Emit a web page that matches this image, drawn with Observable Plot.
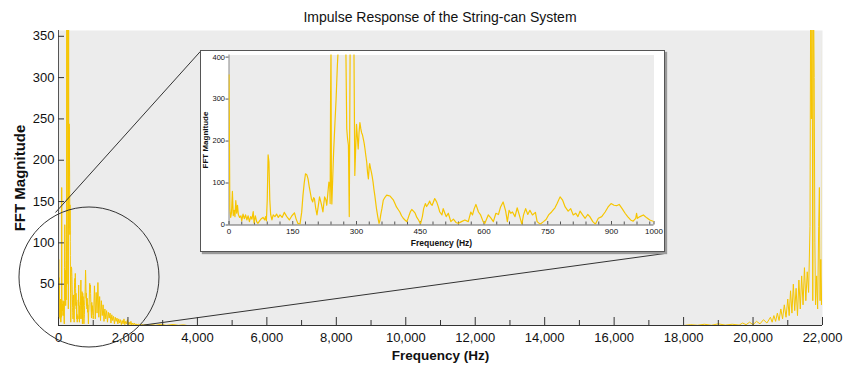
<!DOCTYPE html>
<html><head><meta charset="utf-8">
<script src="https://cdn.jsdelivr.net/npm/d3@7"></script>
<script src="https://cdn.jsdelivr.net/npm/@observablehq/plot@0.6"></script>
<style>
body{margin:0;background:#fff;font-family:"Liberation Sans",Arial,sans-serif;}
#wrap{position:relative;width:844px;height:366px;overflow:hidden;}
#title{position:absolute;left:58px;width:764px;top:8px;line-height:18px;text-align:center;font-size:14px;color:#111;}
#main{position:absolute;left:0;top:26px;}
#inset{position:absolute;left:200px;top:50px;width:463px;height:200px;border:1.5px solid #555;background:#fff;box-shadow:2px 2px 1px #999;}
</style></head><body>
<div id="wrap"><div id="title">Impulse Response of the String-can System</div><div id="main"></div><div id="inset"></div></div>
<script>
// ---- Tick labels ----
const xTickLabels = [0, 2000, 4000, 6000, 8000, 10000, 12000, 14000, 16000, 18000, 20000, 22000];
const xMinorTicks = [1000, 3000, 5000, 7000, 9000, 11000, 13000, 15000, 17000, 19000, 21000];
const yTickLabels = [50, 100, 150, 200, 250, 300, 350];
const insetXTickLabels = [0, 150, 300, 450, 600, 750, 900, 1000];
const insetXMinorTicks = [30, 60, 90, 120, 180, 210, 240, 270, 330, 360, 390, 420, 480, 510, 540, 570, 630, 660, 690, 720, 780, 810, 840, 870, 930, 960, 990];
const insetYTickLabels = [0, 100, 200, 300, 400];

// ---- Spectrum 0–1000 Hz ----
const insetFreq = [0,2,4,6,8,10,12,14,16,18,20,22,25,28,30,33,36,39,42,45,48,51,54,57,59,62,65,68,72,76,80,84,86,88,90,92,94,96,98,101,104,108,112,116,120,125,130,136,142,148,154,158,162,167,171,174,177,180,183,186,189,191,194,197,199,201,204,207,210,213,216,218,221,223,225,228,230,233,235,237,238,239,240,241,242,244,246,249,252,255,257,260,266,272,275,277,279,281,283,285,290,294,296,298,300,302,304,306,308,310,312,314,316,318,320,322,324,326,328,330,331,333,335,337,339,341,343,345,347,350,353,355,357,360,363,367,371,375,379,383,387,391,394,398,402,406,410,414,418,421,424,427,430,434,438,442,446,449,451,455,458,462,465,467,470,472,475,478,481,484,487,489,492,496,501,504,508,511,516,522,528,534,540,547,555,563,569,573,577,581,587,592,598,602,610,616,622,628,634,639,645,651,655,659,663,667,673,678,683,689,693,698,703,708,714,721,725,732,740,746,752,759,767,772,779,785,791,798,804,810,816,821,826,832,838,844,849,856,862,869,877,885,892,899,906,912,918,925,932,938,945,951,957,959,961,967,975,983,990,998,1000];
const insetMag = [358,40,18,30,80,22,35,20,58,28,47,25,18,22,10,26,15,24,12,22,8,20,14,32,5,22,8,4,10,15,18,12,20,10,60,167,150,60,25,12,24,20,26,18,24,18,30,20,12,22,29,14,4,2,30,70,100,122,120,110,90,79,62,55,65,63,40,24,45,67,55,47,31,50,67,60,47,80,102,95,51,300,420,90,50,110,170,237,300,380,420,600,600,600,420,230,205,190,20,420,520,420,118,180,240,210,181,220,244,230,220,215,205,195,181,165,150,125,110,140,146,135,126,115,102,85,71,55,39,20,4,10,24,40,59,66,71,70,69,64,59,50,43,37,31,22,16,12,8,15,24,32,37,33,28,18,12,6,4,20,39,51,44,47,52,57,50,47,55,63,58,54,45,31,24,39,28,20,28,8,14,6,4,8,12,8,31,24,39,49,31,24,8,4,24,17,8,28,25,43,55,33,8,35,28,31,20,41,24,2,24,39,25,35,24,30,8,2,8,13,24,31,41,51,67,59,43,33,39,24,28,20,33,24,16,25,20,8,2,16,20,31,43,51,47,46,49,39,28,20,12,9,16,28,16,20,24,17,12,9,8];

// ---- Spectrum 1–3.7 kHz (main chart) ----
const midFreq = [1010,1035,1060,1085,1110,1135,1160,1185,1210,1235,1260,1285,1310,1335,1360,1385,1410,1435,1460,1485,1510,1535,1560,1585,1610,1635,1660,1685,1710,1735,1760,1785,1810,1835,1860,1885,1910,1935,1960,1985,2010,2035,2060,2085,2110,2135,2160,2185,2210,2235,2260,2300,2350,2400,2450,2500,2600,2700,2800,2950,3100,3300,3450,3600,3700];
const midMag = [12,48,8,40,15,52,10,35,6,30,12,25,5,20,8,18,4,16,9,15,3,13,6,11,2,10,5,9,2,8,3,7,1,6,2,8,1,5,2,7,1,4,1,5,0.5,3,1,3,0.5,2,0.5,1.5,0.3,1.2,0.3,1,0.2,1,0.2,1.5,0.2,1.2,0.2,0.8,0];

// ---- Spectrum 18–22 kHz (main chart, mirrored side) ----
const highFreq = [18000,18200,18400,18600,18800,19000,19200,19400,19600,19700,19800,19900,20000,20100,20200,20300,20400,20500,20550,20600,20650,20700,20750,20800,20850,20900,20950,21000,21040,21080,21120,21160,21200,21240,21280,21320,21360,21400,21440,21480,21520,21560,21600,21640,21660,21680,21700,21720,21740,21760,21780,21800,21830,21860,21890,21910,21930,21950,21970,21990,22000];
const highMag = [0,1,0.3,1.5,0.3,2,0.5,1.5,0.5,3,1,4,1,5,2,7,3,10,4,12,5,15,6,20,8,25,10,32,12,42,15,50,18,45,12,55,20,60,25,70,30,65,40,120,420,250,420,30,420,300,100,25,60,20,120,167,30,80,25,60,358];

// ---- Annotation (zoom circle and connector lines, in chart units) ----
const zoomCircle = [{f: 878, m: 58.7}];
const zoomRadius = 70;
const connectors = [{f1: -86, m1: 136.8, f2: 4086, m2: 331.7}, {f1: 2360, m1: 0, f2: 17468, m2: 87.2}];

const yellow = "#f6c500";
const font = "'Liberation Sans', Arial, sans-serif";

const mainData = [];
insetFreq.forEach((f, i) => mainData.push({f, m: insetMag[i]}));
midFreq.forEach((f, i) => mainData.push({f, m: midMag[i]}));
highFreq.forEach((f, i) => mainData.push({f, m: highMag[i]}));
const insetData = insetFreq.map((f, i) => ({f, m: insetMag[i]}));

const fmt = d3.format(",");

const main = Plot.plot({
  width: 844, height: 340,
  marginTop: 4, marginBottom: 41, marginLeft: 58, marginRight: 22,
  x: {domain: [0, 22000], axis: null},
  y: {domain: [0, 357], axis: null},
  style: {fontFamily: font, background: "transparent", color: "#111"},
  marks: [
    Plot.frame({fill: "#ececec", stroke: null}),
    Plot.line(mainData, {x: "f", y: "m", stroke: yellow, strokeWidth: 1, clip: true}),
    Plot.ruleX([0], {stroke: "#555"}),
    Plot.ruleY([0], {stroke: "#333"}),
    Plot.ruleX(xTickLabels, {x: d => d, y1: 0, y2: 0, insetTop: -8, stroke: "#333"}),
    Plot.ruleX(xMinorTicks, {x: d => d, y1: 0, y2: 0, insetTop: -5, stroke: "#333"}),
    Plot.ruleY(yTickLabels, {y: d => d, x1: 0, x2: 0, insetRight: -6, stroke: "#333"}),
    Plot.text(xTickLabels, {x: d => d, frameAnchor: "bottom", dy: 7, lineAnchor: "top", text: d => fmt(d), fontSize: 13}),
    Plot.text(yTickLabels, {y: d => d, frameAnchor: "left", dx: -4, textAnchor: "end", text: d => String(d), fontSize: 13}),
    Plot.text(["Frequency (Hz)"], {frameAnchor: "bottom", dy: 30, lineAnchor: "middle", textAnchor: "middle", text: d => d, fontSize: 13.5, fontWeight: "bold"}),
    Plot.text(["FFT Magnitude"], {frameAnchor: "left", dx: -38, rotate: -90, lineAnchor: "middle", textAnchor: "middle", text: d => d, fontSize: 15, fontWeight: "bold"}),
    Plot.dot(zoomCircle, {x: "f", y: "m", r: zoomRadius, stroke: "#333", strokeWidth: 1, fill: "none"}),
    Plot.link(connectors, {x1: "f1", y1: "m1", x2: "f2", y2: "m2", stroke: "#333", strokeWidth: 1})
  ]
});
document.getElementById("main").appendChild(main);

const inset = Plot.plot({
  width: 463, height: 200,
  marginTop: 3.5, marginBottom: 26.5, marginLeft: 27.5, marginRight: 10.5,
  x: {domain: [0, 1000], axis: null},
  y: {domain: [0, 405], axis: null},
  style: {fontFamily: font, background: "transparent", color: "#111"},
  marks: [
    Plot.frame({fill: "#ececec", stroke: null}),
    Plot.ruleX([0], {stroke: "#888"}),
    Plot.ruleY([0], {stroke: "#666"}),
    Plot.ruleX(insetXTickLabels, {x: d => d, y1: 0, y2: 0, insetTop: -3.5, stroke: "#555"}),
    Plot.ruleX(insetXMinorTicks, {x: d => d, y1: 0, y2: 0, insetTop: -3, stroke: "#555"}),
    Plot.ruleY(insetYTickLabels, {y: d => d, x1: 0, x2: 0, insetLeft: -3, stroke: "#555"}),
    Plot.line(insetData, {x: "f", y: "m", stroke: yellow, strokeWidth: 1.2, clip: true}),
    Plot.text(insetXTickLabels, {x: d => d, frameAnchor: "bottom", dy: 3, lineAnchor: "top", text: d => String(d), fontSize: 8}),
    Plot.text(insetYTickLabels, {y: d => d, frameAnchor: "left", dx: -4, textAnchor: "end", text: d => String(d), fontSize: 7.5}),
    Plot.text(["Frequency (Hz)"], {frameAnchor: "bottom", dy: 18.5, lineAnchor: "middle", textAnchor: "middle", text: d => d, fontSize: 8.5, fontWeight: "bold"}),
    Plot.text(["FFT Magnitude"], {frameAnchor: "left", dx: -23.5, rotate: -90, lineAnchor: "middle", textAnchor: "middle", text: d => d, fontSize: 8, fontWeight: "bold"})
  ]
});
document.getElementById("inset").appendChild(inset);
</script>
</body></html>
